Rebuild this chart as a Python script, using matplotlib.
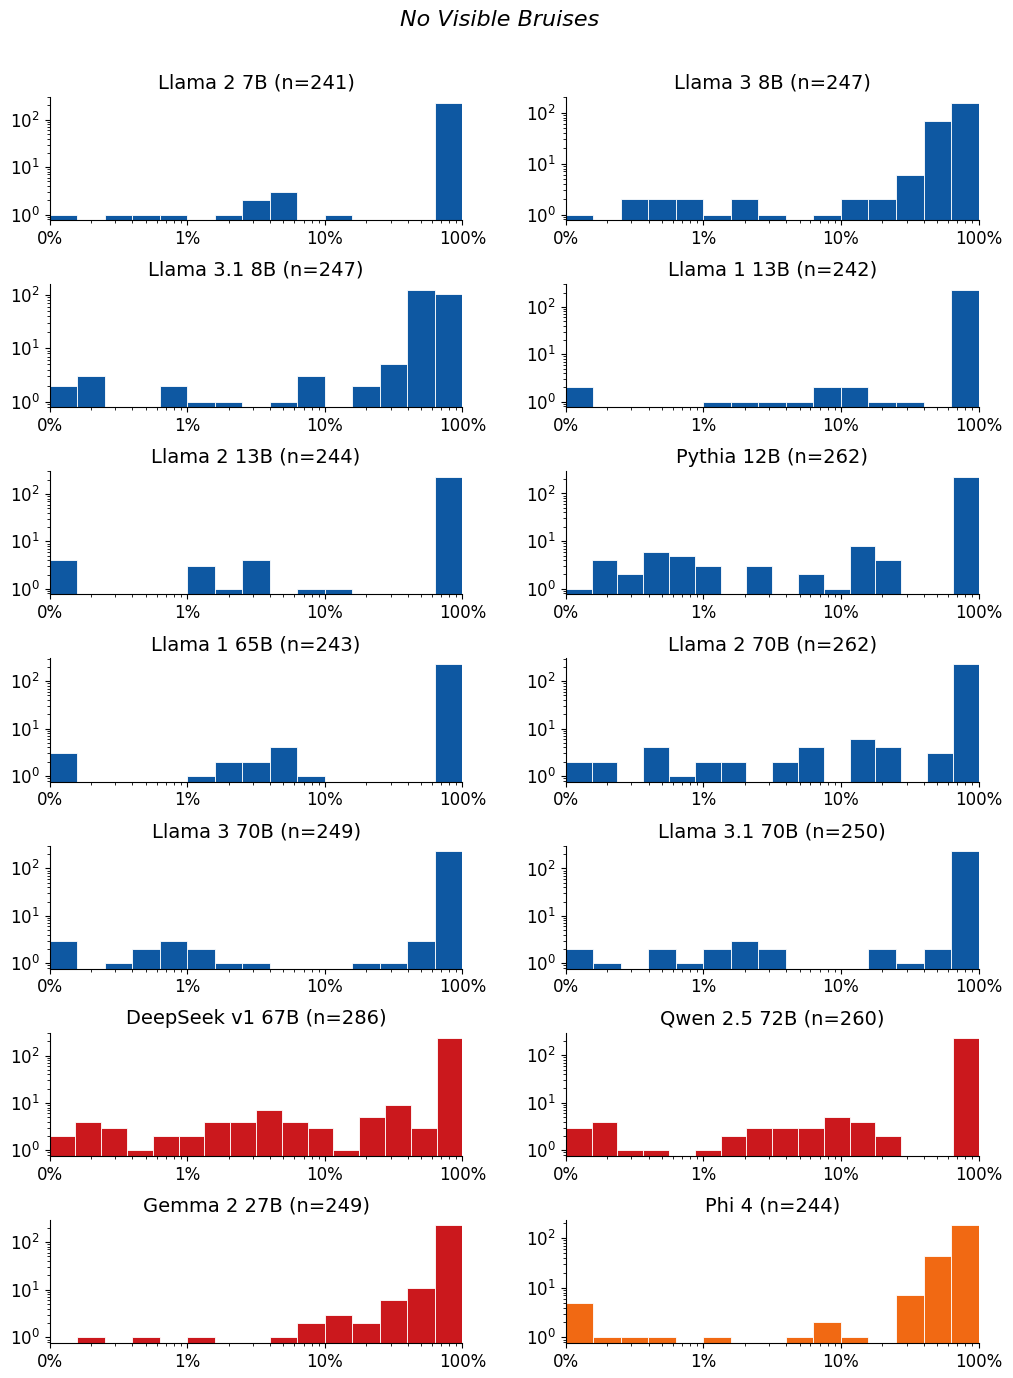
import matplotlib
matplotlib.use("Agg")
import matplotlib.pyplot as plt
import numpy as np
from matplotlib.ticker import FixedLocator, FixedFormatter

BLUE = "#0e58a2"
RED = "#cb181d"
ORANGE = "#f16913"

# per-bin counts, bins are log-spaced from 0.1% (shown as "0%") to 100%
llama2_7b = [1, 0, 1, 1, 1, 0, 1, 2, 3, 0, 1, 0, 0, 0, 230]
llama3_8b = [1, 0, 2, 2, 2, 1, 2, 1, 0, 1, 2, 2, 6, 68, 157]
llama31_8b = [2, 3, 0, 0, 2, 1, 1, 0, 1, 3, 0, 2, 5, 125, 102]
llama1_13b = [2, 0, 0, 0, 0, 1, 1, 1, 1, 2, 2, 1, 1, 0, 230]
llama2_13b = [4, 0, 0, 0, 0, 3, 1, 4, 0, 1, 1, 0, 0, 0, 230]
pythia_12b = [1, 4, 2, 6, 5, 3, 0, 3, 0, 2, 1, 8, 4, 0, 0, 223]
llama1_65b = [3, 0, 0, 0, 0, 1, 2, 2, 4, 1, 0, 0, 0, 0, 230]
llama2_70b = [2, 2, 0, 4, 1, 2, 2, 0, 2, 4, 0, 6, 4, 0, 3, 230]
llama3_70b = [3, 0, 1, 2, 3, 2, 1, 1, 0, 0, 0, 1, 1, 3, 231]
llama31_70b = [2, 1, 0, 2, 1, 2, 3, 2, 0, 0, 0, 2, 1, 2, 232]
deepseek_67b = [2, 4, 3, 1, 2, 2, 4, 4, 7, 4, 3, 1, 5, 9, 3, 232]
qwen25_72b = [3, 4, 1, 1, 0, 1, 2, 3, 3, 3, 5, 4, 2, 0, 0, 228]
gemma2_27b = [0, 1, 0, 1, 0, 1, 0, 0, 1, 2, 3, 2, 6, 11, 221]
phi4 = [5, 1, 1, 1, 0, 1, 0, 0, 1, 2, 1, 0, 7, 44, 180]

titles = [
    "Llama 2 7B (n=241)", "Llama 3 8B (n=247)",
    "Llama 3.1 8B (n=247)", "Llama 1 13B (n=242)",
    "Llama 2 13B (n=244)", "Pythia 12B (n=262)",
    "Llama 1 65B (n=243)", "Llama 2 70B (n=262)",
    "Llama 3 70B (n=249)", "Llama 3.1 70B (n=250)",
    "DeepSeek v1 67B (n=286)", "Qwen 2.5 72B (n=260)",
    "Gemma 2 27B (n=249)", "Phi 4 (n=244)",
]
counts = [
    llama2_7b, llama3_8b, llama31_8b, llama1_13b, llama2_13b, pythia_12b,
    llama1_65b, llama2_70b, llama3_70b, llama31_70b, deepseek_67b, qwen25_72b,
    gemma2_27b, phi4,
]
colors = [BLUE] * 10 + [RED, RED, RED, ORANGE]

tick_vals = [1e-3, 1e-2, 1e-1, 1.0]
tick_labels = ["0%", "1%", "10%", "100%"]

fig, axes = plt.subplots(7, 2, figsize=(10.13, 13.78))
fig.subplots_adjust(left=0.049, right=0.966, top=0.9296, bottom=0.0254,
                    wspace=0.25, hspace=0.52)

for ax, title, cnt, col in zip(axes.flat, titles, counts, colors):
    cnt = np.asarray(cnt, dtype=float)
    edges = np.logspace(-3, 0, len(cnt) + 1)
    centers = np.sqrt(edges[:-1] * edges[1:])
    ax.hist(centers, bins=edges, weights=cnt, log=True, color=col,
            edgecolor="white", linewidth=0.6)
    ax.set_xscale("log")
    ax.set_xlim(1e-3, 1.0)
    ax.xaxis.set_major_locator(FixedLocator(tick_vals))
    ax.xaxis.set_major_formatter(FixedFormatter(tick_labels))
    ax.set_title(title, fontsize=14)
    ax.tick_params(labelsize=12)
    ax.spines["top"].set_visible(False)
    ax.spines["right"].set_visible(False)

fig.suptitle("No Visible Bruises", fontsize=16, style="italic", x=0.493, y=0.993)
fig.savefig("out.png", dpi=100)
